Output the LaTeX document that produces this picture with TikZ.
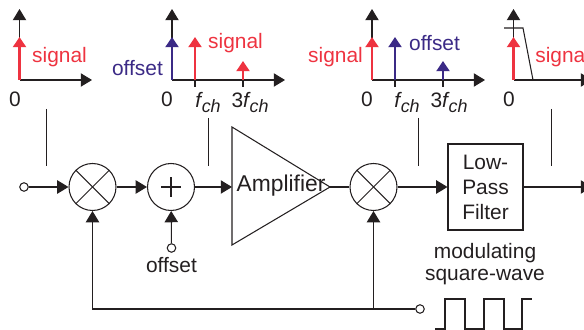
\documentclass[tikz,border=0pt]{standalone}
\usepackage{fontspec}
\setmainfont{Liberation Sans}
\usepackage{xcolor}
\usepackage{tikz}
\usetikzlibrary{arrows.meta}

\definecolor{sigred}{HTML}{EE3340}
\definecolor{offblue}{HTML}{3B2A86}
\definecolor{inkgray}{HTML}{231F20}
\newcommand{\fch}{\textit{f\kern0.03em\raisebox{-0.42ex}{\fontsize{10.2}{12}\selectfont ch}}}
\tikzset{
	line/.style={draw=inkgray,line width=0.6pt},
	axis/.style={line,-{Triangle[length=6.4pt,width=7.6pt]}},
	flow/.style={line,-{Triangle[length=6.4pt,width=7.6pt]}},
	spike/.style={line width=1.25pt,-{Triangle[length=5.8pt,width=7.4pt]}},
	lab/.style={font=\fontsize{11.9}{14}\selectfont,text=inkgray,inner sep=0pt},
	mixer/.style={circle,draw=inkgray,line width=0.6pt,minimum size=0.94cm,inner sep=0pt},
	port/.style={circle,draw=inkgray,fill=white,line width=0.6pt,minimum size=0.17cm,inner sep=0pt},
}

\begin{document}
\begin{tikzpicture}[x=0.02cm,y=-0.02cm]
	\useasboundingbox (0,0) rectangle (584,330);

	% first spectrum
	\draw[axis] (19.5,80) -- (19.5,9);
	\draw[axis] (19.5,80) -- (92,80);
	\draw[spike,sigred] (19.5,80) -- (19.5,37);
	\node[lab,text=sigred] (siga) at (59.5,57) {signal};
	\node[lab] (zeroa) at (15,99) {0};
	\draw[line] (46.5,109) -- (46.5,166);

	% second spectrum
	\draw[axis] (172,80) -- (172,9);
	\draw[axis] (172,80) -- (285,80);
	\draw[line] (195,80) -- (195,87);
	\draw[line] (243,80) -- (243,87);
	\draw[spike,offblue] (172,80) -- (172,37);
	\draw[spike,sigred] (195,80) -- (195,37);
	\draw[spike,sigred] (243,80) -- (243,61);
	\node[lab,text=sigred] (sigb) at (235.5,43) {signal};
	\node[lab,text=offblue] (offb) at (137.5,68) {offset};
	\node[lab] (zerob) at (167,99) {0};
	\node[lab] (fb) at (208,102.5) {\fch};
	\node[lab] (tfb) at (250,102.5) {3\fch};
	\draw[line] (208.5,118) -- (208.5,166);

	% third spectrum
	\draw[axis] (372,80) -- (372,9);
	\draw[axis] (372,80) -- (485,80);
	\draw[line] (395,80) -- (395,87);
	\draw[line] (443,80) -- (443,87);
	\draw[spike,sigred] (372,80) -- (372,37);
	\draw[spike,offblue] (395,80) -- (395,37);
	\draw[spike,offblue] (443,80) -- (443,61);
	\node[lab,text=sigred] (sigc) at (335.5,57) {signal};
	\node[lab,text=offblue] (offc) at (434.5,43) {offset};
	\node[lab] (zeroc) at (367,99) {0};
	\node[lab] (fc) at (407,102.5) {\fch};
	\node[lab] (tfc) at (449,102.5) {3\fch};
	\draw[line] (418.5,118) -- (418.5,166);

	% last spectrum
	\draw[axis] (513.5,80) -- (513.5,9);
	\draw[axis] (513.5,80) -- (592,80);
	\draw[spike,sigred] (513.5,80) -- (513.5,37);
	\draw[line] (504,28) -- (523,28) -- (533,80);
	\node[lab,text=sigred,anchor=west] (sigd) at (535,57) {signal};
	\node[lab] (zerod) at (509,99) {0};
	\draw[line] (551.5,109) -- (551.5,166);

	% signal path
	\node[port] (in) at (24,187) {};
	\node[mixer] (mixa) at (92.5,187) {};
	\draw[line] (mixa.45) -- (mixa.225);
	\draw[line] (mixa.135) -- (mixa.315);
	\node[mixer] (sum) at (171,187) {};
	\draw[line] ([xshift=-0.2cm]sum.center) -- ([xshift=0.2cm]sum.center);
	\draw[line] ([yshift=-0.2cm]sum.center) -- ([yshift=0.2cm]sum.center);
	\draw[line] (232,127) -- (330,187) -- (232,245) -- cycle;
	\coordinate (ampin) at (232,187);
	\coordinate (amptip) at (330,187);
	\node[lab,font=\fontsize{13}{15}\selectfont] (amp) at (281,186) {Amplifier};
	\node[mixer] (mixb) at (373.5,187) {};
	\draw[line] (mixb.45) -- (mixb.225);
	\draw[line] (mixb.135) -- (mixb.315);
	\node[draw=inkgray,line width=0.6pt,minimum width=1.5cm,minimum height=1.72cm,inner sep=0pt,
		lab,align=center,font=\fontsize{11.9}{14.2}\selectfont] (lpf) at (485.5,187) {Low-\\Pass\\Filter};
	\coordinate (out) at (592,187);

	\draw[flow] (in) -- (mixa);
	\draw[flow] (mixa) -- (sum);
	\draw[flow] (sum) -- (ampin);
	\draw[line] (amptip) -- (mixb);
	\draw[flow] (mixb) -- (lpf);
	\draw[flow] (lpf) -- (out);

	% offset input
	\node[port] (offp) at (171.5,248) {};
	\node[lab] (offl) at (171.5,265) {offset};
	\draw[flow] (offp) -- (sum);

	% modulating input
	\node[port] (mod) at (420,309) {};
	\coordinate (backa) at (92.5,309);
	\coordinate (backb) at (373.5,309);
	\draw[flow] (mod) -- (backa) -- (mixa);
	\draw[flow] (backb) -- (mixb);
	\node[lab] (modl) at (485,253) {modulating};
	\node[lab] (modm) at (485,277.5) {square-wave};
	\draw[line] (435,329) -- (445,329) -- (445,299) -- (465,299) -- (465,329) -- (484,329) -- (484,299)
		-- (504,299) -- (504,329) -- (522,329) -- (522,299) -- (532,299);
\end{tikzpicture}
\end{document}
